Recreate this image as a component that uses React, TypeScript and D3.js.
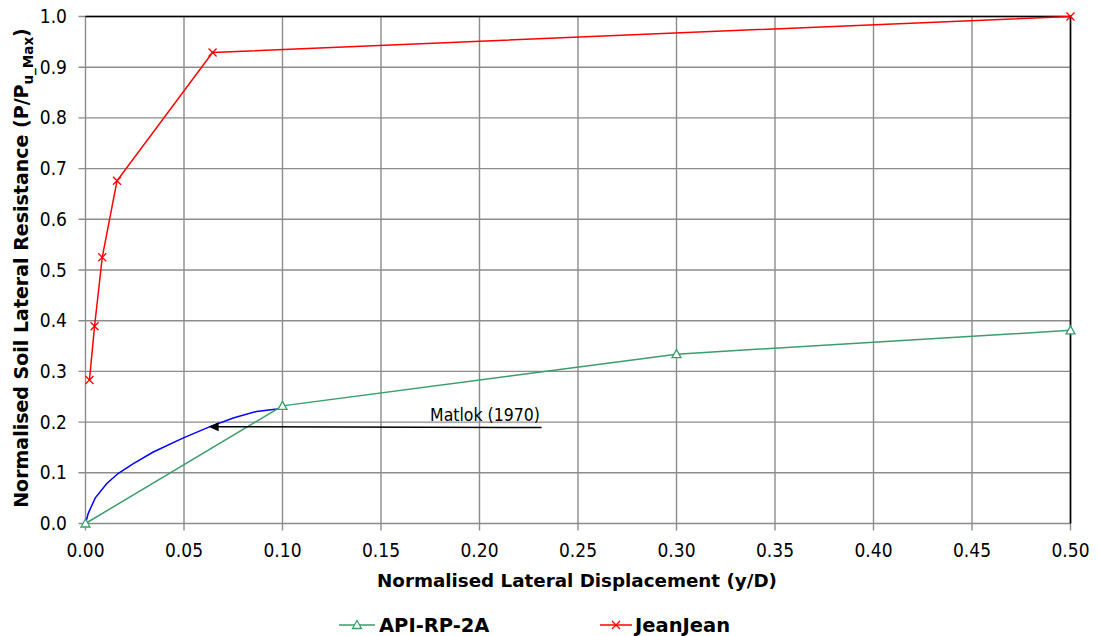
import React from "react";
import * as d3 from "d3";

// Normalised p-y curves for soft clay
const jeanX = [0.002, 0.0046, 0.0085, 0.016, 0.0645, 0.5];
const jeanY = [0.283, 0.389, 0.525, 0.676, 0.929, 1.0];

const apiX = [0, 0.1, 0.3, 0.5];
const apiY = [0, 0.232, 0.334, 0.381];

const matlokX = [0, 0.0014, 0.0049, 0.0108, 0.0167, 0.0243, 0.0344, 0.0497, 0.0632, 0.075, 0.0868, 0.0995];
const matlokY = [0, 0.02, 0.05, 0.079, 0.099, 0.118, 0.141, 0.169, 0.191, 0.208, 0.221, 0.227];

const xTicks = [0, 0.05, 0.1, 0.15, 0.2, 0.25, 0.3, 0.35, 0.4, 0.45, 0.5];
const yTicks = [0, 0.1, 0.2, 0.3, 0.4, 0.5, 0.6, 0.7, 0.8, 0.9, 1.0];

const W = 1098;
const H = 636;
const FONT = "'DejaVu Sans Condensed', 'DejaVu Sans', sans-serif";
const BOLD_FONT = "'DejaVu Sans', sans-serif";
const RED = "#ff0000";
const GREEN = "#3a9e6c";
const BLUE = "#0000ff";
const GRID = "#8c8c8c";

const x = d3.scaleLinear().domain([0, 0.5]).range([85.5, 1070.5]);
const y = d3.scaleLinear().domain([0, 1]).range([523.5, 16.5]);

type Pt = [number, number];
const zip = (xs: number[], ys: number[]): Pt[] => xs.map((v, i) => [v, ys[i]]);

const line = d3
  .line<Pt>()
  .x((d) => x(d[0]))
  .y((d) => y(d[1]));

const Tri = ({ cx, cy, color }: { cx: number; cy: number; color: string }) => (
  <path
    d={`M${cx},${cy - 4.5}L${cx + 4.5},${cy + 3.5}L${cx - 4.5},${cy + 3.5}Z`}
    fill="white"
    stroke={color}
    strokeWidth={1.3}
  />
);

const Cross = ({ cx, cy, color }: { cx: number; cy: number; color: string }) => (
  <path
    d={`M${cx - 4},${cy - 4}L${cx + 4},${cy + 4}M${cx - 4},${cy + 4}L${cx + 4},${cy - 4}`}
    stroke={color}
    strokeWidth={1.3}
  />
);

export default function App() {
  const jean = zip(jeanX, jeanY);
  const api = zip(apiX, apiY);
  const matlok = zip(matlokX, matlokY);
  const [x0, x1] = x.range();
  const [y0, y1] = y.range();

  const arrowY = y(0.191);
  const arrowTip = x(0.0625);
  const arrowEnd = x(0.2315);

  return (
    <svg
      width={W}
      height={H}
      style={{ position: "absolute", left: 0, top: 0, background: "white" }}
      fontFamily={FONT}
    >
      {/* grid */}
      {xTicks.map((t) => (
        <line key={"gx" + t} x1={x(t)} x2={x(t)} y1={y1} y2={y0 + 7} stroke={GRID} strokeWidth={1.4} />
      ))}
      {yTicks.map((t) => (
        <line key={"gy" + t} x1={x0 - 7} x2={x1} y1={y(t)} y2={y(t)} stroke={GRID} strokeWidth={1.4} />
      ))}
      {/* top and right frame */}
      <line x1={x0} x2={x1 + 0.7} y1={y1} y2={y1} stroke="#000" strokeWidth={1.6} />
      <line x1={x1} x2={x1} y1={y1} y2={y0} stroke="#000" strokeWidth={1.6} />

      {/* tick labels */}
      {yTicks.map((t) => (
        <text key={"ly" + t} x={67} y={y(t) + 6.5} textAnchor="end" fontSize={19} fill="#000">
          {t.toFixed(1)}
        </text>
      ))}
      {xTicks.map((t) => (
        <text key={"lx" + t} x={x(t)} y={557} textAnchor="middle" fontSize={19} fill="#000">
          {t.toFixed(2)}
        </text>
      ))}

      {/* series */}
      <path d={line(matlok) ?? ""} fill="none" stroke={BLUE} strokeWidth={1.5} />
      <path d={line(api) ?? ""} fill="none" stroke={GREEN} strokeWidth={1.5} />
      {api.map((d, i) => (
        <Tri key={"t" + i} cx={x(d[0])} cy={y(d[1])} color={GREEN} />
      ))}
      <path d={line(jean) ?? ""} fill="none" stroke={RED} strokeWidth={1.5} />
      {jean.map((d, i) => (
        <Cross key={"c" + i} cx={x(d[0])} cy={y(d[1])} color={RED} />
      ))}

      {/* annotation */}
      <line x1={arrowEnd} x2={arrowTip + 9} y1={arrowY + 0.8} y2={arrowY} stroke="#000" strokeWidth={1.5} />
      <path
        d={`M${arrowTip},${arrowY}L${arrowTip + 10},${arrowY - 4.5}L${arrowTip + 10},${arrowY + 4.5}Z`}
        fill="#000"
      />
      <text x={485} y={421} textAnchor="middle" fontSize={17.5} fill="#000">
        Matlok (1970)
      </text>

      {/* axis titles */}
      <g fontFamily={BOLD_FONT} fontWeight="bold" fill="#000">
        <text x={577} y={587} textAnchor="middle" fontSize={18.3}>
          Normalised Lateral Displacement (y/D)
        </text>
        <text transform="translate(28,268) rotate(-90)" textAnchor="middle" fontSize={19}>
          Normalised Soil Lateral Resistance (P/P
          <tspan fontSize={13.5} dy={5}>u_Max</tspan>
          <tspan dy={-5}>)</tspan>
        </text>

        {/* legend */}
        <text x={379} y={632} fontSize={19.5}>
          API-RP-2A
        </text>
        <text x={635} y={632} fontSize={19.5}>
          JeanJean
        </text>
      </g>
      <line x1={339} x2={375} y1={625} y2={625} stroke={GREEN} strokeWidth={1.5} />
      <Tri cx={357} cy={625} color={GREEN} />
      <line x1={600} x2={632} y1={625} y2={625} stroke={RED} strokeWidth={1.5} />
      <Cross cx={616} cy={625} color={RED} />
    </svg>
  );
}
